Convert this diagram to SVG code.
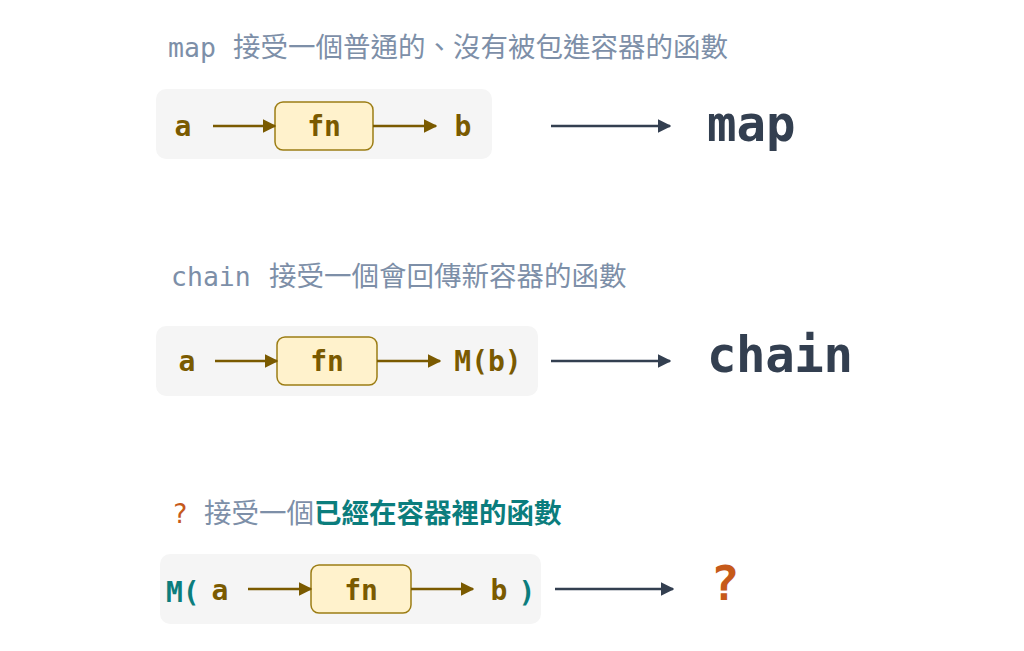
<svg xmlns="http://www.w3.org/2000/svg" width="1024" height="651" viewBox="0 0 1024 651">
<defs>
<style>
.title{font-family:"DejaVu Sans Mono","Noto Sans CJK TC",monospace;font-size:26.5px;fill:#7d8fa8}
.cjk{font-family:"Noto Sans CJK TC",sans-serif;font-size:27.5px;fill:#7d8fa8}
.panel{fill:#f5f5f5}
.lbl{font-family:"DejaVu Sans Mono",monospace;font-weight:bold;font-size:28px;fill:#7a5a00}
.fnbox{fill:#fff2cc;stroke:#9c7d14;stroke-width:1.5}
.big{font-family:"DejaVu Sans Mono",monospace;font-weight:bold;fill:#333f50}
.teal{fill:#0b7d7d}
.orange{fill:#c65a1a}
.sm{stroke:#7a5a00;stroke-width:2.5;fill:none}
.lg{stroke:#333f50;stroke-width:2.5;fill:none}
</style>
<marker id="ah" viewBox="0 0 10 10" refX="9" refY="5" markerWidth="5.5" markerHeight="5.5" markerUnits="strokeWidth" orient="auto"><path d="M0,0 L10,5 L0,10 z" fill="#7a5a00"/></marker>
<marker id="ahd" viewBox="0 0 10 10" refX="9" refY="5" markerWidth="5.5" markerHeight="5.5" markerUnits="strokeWidth" orient="auto"><path d="M0,0 L10,5 L0,10 z" fill="#333f50"/></marker>
</defs>
<rect width="1024" height="651" fill="#ffffff"/>

<g id="title1"><text y="57" class="title"><tspan x="168">map</tspan><tspan x="233" class="cjk">接受一個普通的、沒有被包進容器的函數</tspan></text></g>
<g id="panel1">
<rect x="156" y="89" width="336" height="70" rx="10" class="panel"/>
<text x="183" y="136" class="lbl" text-anchor="middle">a</text>
<g id="fn1"><rect x="275" y="102" width="98" height="48" rx="8" class="fnbox"/>
<text x="324" y="136" class="lbl" text-anchor="middle">fn</text></g>
<text x="463" y="136" class="lbl" text-anchor="middle">b</text>
</g>
<g id="result1"><text x="707" y="141" class="big" font-size="49">map</text></g>

<g id="title2"><text y="286" class="title"><tspan x="171">chain</tspan><tspan x="269" class="cjk">接受一個會回傳新容器的函數</tspan></text></g>
<g id="panel2">
<rect x="156" y="326" width="382" height="70" rx="10" class="panel"/>
<text x="187" y="371" class="lbl" text-anchor="middle">a</text>
<g id="fn2"><rect x="277" y="337" width="100" height="48" rx="8" class="fnbox"/>
<text x="327" y="371" class="lbl" text-anchor="middle">fn</text></g>
<text x="488" y="371" class="lbl" text-anchor="middle">M(b)</text>
</g>
<g id="result2"><text x="707" y="372" class="big" font-size="49" textLength="146">chain</text></g>

<g id="title3"><text y="523" class="title"><tspan x="172" class="orange">?</tspan><tspan x="204" class="cjk">接受一個</tspan><tspan class="cjk teal" font-weight="bold">已經在容器裡的函數</tspan></text></g>
<g id="panel3">
<rect x="160" y="554" width="381" height="70" rx="10" class="panel"/>
<text x="166" y="602" class="lbl teal" font-size="38">M(</text>
<text x="220" y="600" class="lbl" text-anchor="middle">a</text>
<g id="fn3"><rect x="311" y="565" width="100" height="48" rx="8" class="fnbox"/>
<text x="361" y="600" class="lbl" text-anchor="middle">fn</text></g>
<text x="499" y="600" class="lbl" text-anchor="middle">b</text>
<text x="527" y="602" class="lbl teal" font-size="38" text-anchor="middle">)</text>
</g>
<g id="result3"><text x="725" y="600" class="big orange" font-size="48" text-anchor="middle">?</text></g>

<g id="connectors">
<line x1="213" y1="126" x2="275" y2="126" class="sm" marker-end="url(#ah)"/>
<line x1="373" y1="126" x2="436" y2="126" class="sm" marker-end="url(#ah)"/>
<line x1="551" y1="126" x2="670" y2="126" class="lg" marker-end="url(#ahd)"/>
<line x1="215" y1="361" x2="277" y2="361" class="sm" marker-end="url(#ah)"/>
<line x1="377" y1="361" x2="440" y2="361" class="sm" marker-end="url(#ah)"/>
<line x1="551" y1="361" x2="670" y2="361" class="lg" marker-end="url(#ahd)"/>
<line x1="248" y1="589" x2="311" y2="589" class="sm" marker-end="url(#ah)"/>
<line x1="411" y1="589" x2="473" y2="589" class="sm" marker-end="url(#ah)"/>
<line x1="555" y1="589" x2="673" y2="589" class="lg" marker-end="url(#ahd)"/>
</g>
</svg>
